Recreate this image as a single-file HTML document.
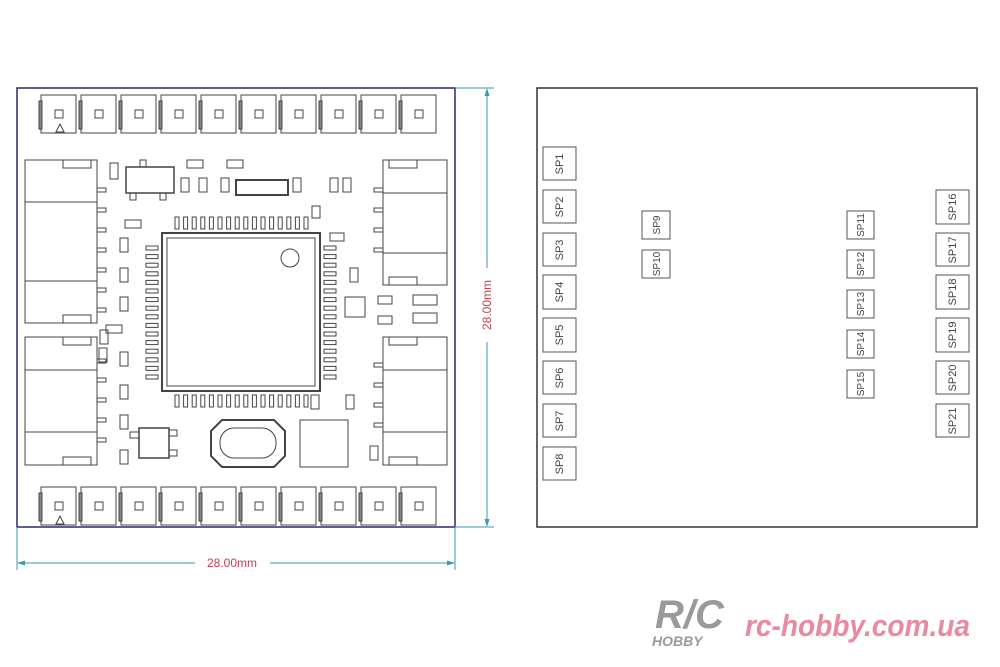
<!DOCTYPE html>
<html><head><meta charset="utf-8"><style>
html,body{margin:0;padding:0;background:#fff;width:1000px;height:667px;overflow:hidden}
svg{display:block}
text{font-family:"Liberation Sans",Arial,sans-serif}
</style></head><body>
<svg id="s" width="1000" height="667" viewBox="0 0 1000 667" xmlns="http://www.w3.org/2000/svg">
<rect width="1000" height="667" fill="#fff"/>
<!-- left board -->
<rect x="17" y="88" width="438" height="439" fill="none" stroke="#2a2a6a" stroke-width="1.5"/>
<g id="g" fill="none" stroke="#444" stroke-width="1"></g>
<!-- dimensions -->
<g stroke="#3a9ab8" stroke-width="1" fill="none">
<line x1="17" y1="527" x2="17" y2="570"/><line x1="455" y1="527" x2="455" y2="570"/>
<line x1="20" y1="563" x2="195" y2="563"/><line x1="270" y1="563" x2="452" y2="563"/>
<line x1="455" y1="88" x2="494" y2="88"/><line x1="455" y1="527" x2="494" y2="527"/>
<line x1="487" y1="91" x2="487" y2="268"/><line x1="487" y1="342" x2="487" y2="524"/>
</g>
<g fill="#3a9ab8"><path d="M17 563 l8 -2.5 v5z"/><path d="M455 563 l-8 -2.5 v5z"/><path d="M487 88 l-2.5 8 h5z"/><path d="M487 527 l-2.5 -8 h5z"/></g>
<text x="232" y="567" font-size="12" fill="#c04050" text-anchor="middle">28.00mm</text>
<text transform="translate(491,305) rotate(-90)" font-size="12" fill="#c04050" text-anchor="middle">28.00mm</text>
<!-- right panel -->
<rect x="537" y="88" width="440" height="439" fill="none" stroke="#333" stroke-width="1.5"/>
<g fill="none" stroke="#555" stroke-width="1">
<rect x="543" y="147" width="33" height="33"/><rect x="543" y="190" width="33" height="33"/><rect x="543" y="233" width="33" height="33"/><rect x="543" y="275" width="33" height="34"/><rect x="543" y="318" width="33" height="34"/><rect x="543" y="361" width="33" height="33"/><rect x="543" y="404" width="33" height="33"/><rect x="543" y="447" width="33" height="33"/>
<rect x="642" y="211" width="28" height="28"/><rect x="642" y="250" width="28" height="28"/>
<rect x="847" y="211" width="27" height="28"/><rect x="847" y="250" width="27" height="28"/><rect x="847" y="290" width="27" height="28"/><rect x="847" y="330" width="27" height="28"/><rect x="847" y="370" width="27" height="28"/>
<rect x="936" y="190" width="33" height="34"/><rect x="936" y="233" width="33" height="33"/><rect x="936" y="275" width="33" height="34"/><rect x="936" y="318" width="33" height="34"/><rect x="936" y="361" width="33" height="33"/><rect x="936" y="404" width="33" height="33"/>
</g>
<g font-size="11" fill="#444" text-anchor="middle">
<text transform="translate(563,164) rotate(-90)">SP1</text>
<text transform="translate(563,207) rotate(-90)">SP2</text>
<text transform="translate(563,250) rotate(-90)">SP3</text>
<text transform="translate(563,292) rotate(-90)">SP4</text>
<text transform="translate(563,335) rotate(-90)">SP5</text>
<text transform="translate(563,378) rotate(-90)">SP6</text>
<text transform="translate(563,421) rotate(-90)">SP7</text>
<text transform="translate(563,464) rotate(-90)">SP8</text>
<text transform="translate(660,225) rotate(-90)" font-size="10">SP9</text>
<text transform="translate(660,264) rotate(-90)" font-size="10">SP10</text>
<text transform="translate(864,225) rotate(-90)" font-size="10">SP11</text>
<text transform="translate(864,264) rotate(-90)" font-size="10">SP12</text>
<text transform="translate(864,304) rotate(-90)" font-size="10">SP13</text>
<text transform="translate(864,344) rotate(-90)" font-size="10">SP14</text>
<text transform="translate(864,384) rotate(-90)" font-size="10">SP15</text>
<text transform="translate(956,207) rotate(-90)">SP16</text>
<text transform="translate(956,250) rotate(-90)">SP17</text>
<text transform="translate(956,292) rotate(-90)">SP18</text>
<text transform="translate(956,335) rotate(-90)">SP19</text>
<text transform="translate(956,378) rotate(-90)">SP20</text>
<text transform="translate(956,421) rotate(-90)">SP21</text>
</g>
<!-- logo -->
<text x="655" y="628" font-size="40" font-weight="bold" font-style="italic" fill="#9a9a9a">R/C</text>
<text x="652" y="646" font-size="14" font-weight="bold" font-style="italic" fill="#9a9a9a">HOBBY</text>
<text x="745" y="636" font-size="31" font-weight="bold" font-style="italic" fill="#e98aa2" textLength="225" lengthAdjust="spacingAndGlyphs">rc-hobby.com.ua</text>
</svg>
<script>
var g=document.getElementById('g'),h='';
function r(x,y,w,hh,f,sw){h+='<rect x="'+x+'" y="'+y+'" width="'+w+'" height="'+hh+'"'+(f?' fill="'+f+'"':'')+(sw?' stroke-width="'+sw+'"':'')+'/>';}
function l(a,b,c,d){h+='<line x1="'+a+'" y1="'+b+'" x2="'+c+'" y2="'+d+'"/>';}
// pads
for(var i=0;i<10;i++){var x=41+i*40;
 [95,487].forEach(function(y){r(x,y,35,38);r(x-2,y+6,3,28,'#888');r(x+14,y+15,8,8);});}
h+='<path d="M56 132 l4 -8 l4 8z"/><path d="M56 524 l4 -8 l4 8z"/>';
// connectors
function con(x,y,w,hh,side){r(x,y,w,hh);var a=y+Math.round(hh*0.26),b=y+Math.round(hh*0.74);l(x,a,x+w,a);l(x,b,x+w,b);
 var tx=side?x+6:x+w-34; r(tx,y,28,8);r(tx,y+hh-8,28,8);}
con(25,160,72,163,0);con(25,337,72,128,0);con(383,160,64,125,1);con(383,337,64,128,1);
[190,210,230,250,270,290,310].forEach(function(y){if(y<320)r(97,y-2,9,4);});
[361,380,400,420,440].forEach(function(y){r(97,y-2,9,4);});
[190,210,230,250].forEach(function(y){r(374,y-2,9,4);});
[365,385,405,425].forEach(function(y){r(374,y-2,9,4);});
// chip
r(162,233,158,158,null,2);r(167,238,148,148);h+='<circle cx="290" cy="258" r="9"/>';
for(var k=0;k<16;k++){var p=175+k*8.6;r(p,217,4,12);r(p,395,4,12);r(146,246+k*8.6,12,4);r(324,246+k*8.6,12,4);}
// misc parts
r(126,167,48,26,null,1.5);r(140,160,6,7);r(130,193,6,7);r(160,193,6,7);
r(110,163,8,16);r(181,178,8,14);r(199,178,8,14);r(221,178,8,14);r(236,180,52,15,null,2);r(293,178,8,14);r(330,178,8,14);r(343,178,8,14);
r(187,160,16,8);r(227,160,16,8);r(312,206,8,12);r(330,233,14,8);r(350,268,8,14);r(345,297,20,20);
r(125,220,16,8);r(120,238,8,14);r(120,268,8,14);r(120,297,8,14);r(106,325,16,8);r(120,352,8,14);r(120,385,8,14);r(120,415,8,14);r(120,450,8,14);r(100,330,8,14);r(99,348,8,14);
r(413,295,24,10);r(413,313,24,10);r(378,296,14,8);r(378,316,14,8);r(346,395,8,14);r(311,395,8,14);r(370,446,8,14);
r(139,428,30,30,null,1.5);r(130,432,9,6);r(169,430,8,6);r(169,450,8,6);
h+='<path d="M222 420 h52 l11 11 v25 l-11 11 h-52 l-11 -11 v-25z" stroke-width="2"/><rect x="220" y="428" width="56" height="30" rx="14"/>';
r(300,420,48,47);
g.innerHTML=h;
</script>
</body></html>
